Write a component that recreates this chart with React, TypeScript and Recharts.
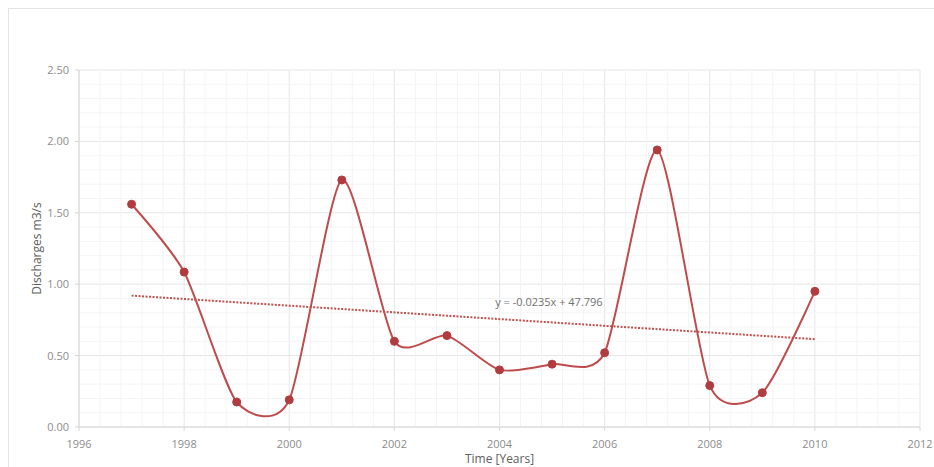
import React from 'react';
import { LineChart, Line, XAxis, YAxis, CartesianGrid, ReferenceLine, ReferenceDot } from 'recharts';

const years = [1997, 1998, 1999, 2000, 2001, 2002, 2003, 2004, 2005, 2006, 2007, 2008, 2009, 2010];
const discharges = [1.56, 1.085, 0.175, 0.19, 1.73, 0.6, 0.64, 0.4, 0.44, 0.52, 1.94, 0.29, 0.24, 0.95];
const trendYears = [1997, 2010];
const trendValues = [0.92, 0.615];
const xTicks = [1996, 1998, 2000, 2002, 2004, 2006, 2008, 2010, 2012];
const yTicks = [0, 0.5, 1, 1.5, 2, 2.5];
const equationText = 'y = -0.0235x + 47.796';
const equationPos = { x: 2004.94, y: 0.875 };
const xLabel = 'Time [Years]';
const yLabel = 'Discharges  m3/s';

const minorY: number[] = [];
for (let i = 1; i < 25; i++) if (i % 5 !== 0) minorY.push(+(i * 0.1).toFixed(2));
const minorX: number[] = [];
for (let i = 1; i < 40; i++) if (i % 5 !== 0) minorX.push(+(1996 + i * 0.4).toFixed(2));

const data = years.map((y, i) => ({ year: y, q: discharges[i] }));
const trendData = trendYears.map((y, i) => ({ year: y, t: trendValues[i] }));

function cardinal(tension: number) {
  const k = (1 - tension) / 6;
  return (context: any) => {
    let x0 = NaN, x1 = NaN, x2 = NaN, y0 = NaN, y1 = NaN, y2 = NaN, pt = 0, line = NaN;
    const seg = (x: number, y: number) =>
      context.bezierCurveTo(
        x1 + k * (x2 - x0), y1 + k * (y2 - y0),
        x2 + k * (x1 - x), y2 + k * (y1 - y),
        x2, y2
      );
    return {
      areaStart() { line = 0; },
      areaEnd() { line = NaN; },
      lineStart() { x0 = x1 = x2 = y0 = y1 = y2 = NaN; pt = 0; },
      lineEnd() {
        if (pt === 2) context.lineTo(x2, y2);
        else if (pt === 3) seg(x1, y1);
        if (line || (line !== 0 && pt === 1)) context.closePath();
        line = 1 - line;
      },
      point(x: number, y: number) {
        x = +x; y = +y;
        switch (pt) {
          case 0: pt = 1; line ? context.lineTo(x, y) : context.moveTo(x, y); break;
          case 1: pt = 2; x1 = x; y1 = y; break;
          case 2: pt = 3; seg(x, y); break;
          default: seg(x, y); break;
        }
        x0 = x1; x1 = x2; x2 = x;
        y0 = y1; y1 = y2; y2 = y;
      },
    };
  };
}

const smooth = cardinal(0.3);
const font = '"Open Sans", "DejaVu Sans", sans-serif';
const tickStyle = { fontSize: 11, fill: '#8c8c8c', fontFamily: font };

export default function App() {
  return (
    <div
      style={{
        position: 'fixed',
        top: 8,
        left: 8,
        width: 925,
        height: 458,
        borderTop: '1px solid #e4e4e4',
        borderLeft: '1px solid #e4e4e4',
        background: '#fff',
      }}
    >
      <LineChart width={925} height={458} data={data} margin={{ top: 61, right: 14, bottom: 0, left: 0 }}>
        {minorY.map((v) => (
          <ReferenceLine key={'my' + v} y={v} stroke="#f4f4f4" strokeWidth={1} />
        ))}
        {minorX.map((v) => (
          <ReferenceLine key={'mx' + v} x={v} stroke="#f4f4f4" strokeWidth={1} />
        ))}
        <CartesianGrid stroke="#e6e6e6" />
        <XAxis
          dataKey="year"
          type="number"
          domain={[1996, 2012]}
          ticks={xTicks}
          allowDataOverflow
          height={40}
          tick={tickStyle}
          tickSize={4}
          tickMargin={9}
          stroke="#d6d6d6"
          label={{ value: xLabel, position: 'insideBottom', offset: 4, style: { fontSize: 12, fill: '#606060', fontFamily: font } }}
        />
        <YAxis
          type="number"
          domain={[0, 2.5]}
          ticks={yTicks}
          width={70}
          tick={tickStyle}
          tickFormatter={(v: number) => v.toFixed(2)}
          tickSize={4}
          tickMargin={6}
          stroke="#d6d6d6"
          label={{ value: yLabel, angle: -90, position: 'insideLeft', offset: 28, style: { textAnchor: 'middle', fontSize: 12, fill: '#606060', fontFamily: font } }}
        />
        <Line
          data={trendData}
          dataKey="t"
          type="linear"
          stroke="#c0504d"
          strokeWidth={2}
          strokeDasharray="2 1.5"
          dot={false}
          isAnimationActive={false}
        />
        <Line
          dataKey="q"
          type={smooth as any}
          stroke="#bf4b4d"
          strokeWidth={2}
          dot={{ r: 4, fill: '#b03c40', stroke: '#b03c40', strokeWidth: 1 }}
          isAnimationActive={false}
        />
        <ReferenceDot
          x={equationPos.x}
          y={equationPos.y}
          r={0}
          fill="none"
          stroke="none"
          label={{ value: equationText, position: 'center', style: { fontSize: 11, fill: '#707070', fontFamily: font } }}
        />
      </LineChart>
    </div>
  );
}
